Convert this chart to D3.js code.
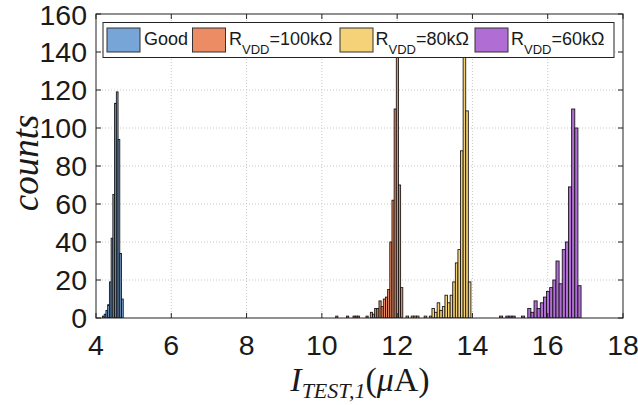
<!DOCTYPE html>
<html><head><meta charset="utf-8">
<script src="https://cdn.jsdelivr.net/npm/d3@7"></script>
<style>body{margin:0;background:#fff}svg{display:block}</style>
</head><body>
<svg id="chart" width="638" height="405"></svg>
<script>
// ---- data ----
const xTicks = [4, 6, 8, 10, 12, 14, 16, 18];
const yTicks = [0, 20, 40, 60, 80, 100, 120, 140, 160];
const seriesNames = ["Good", "100k", "80k", "60k"];
const seriesColors = ["#78a5d7", "#eb8c64", "#f5d278", "#b06dd3"];
// histogram bin starts/widths (µA) and counts
const goodStart = 4.172, goodWidth = 0.046;
const goodCounts = [1, 2, 4, 7, 19, 42, 65, 113, 119, 94, 34, 10];
const r100Start = 10.3675, r100Width = 0.0575;
const r100Counts = [1, 0, 0, 0, 0, 1, 0, 0, 1, 1, 1, 0, 0, 0,
  1, 0, 3, 2, 5, 5, 9, 6, 10, 11, 15, 40, 62, 110, 155, 70, 16];
const r80Start = 12.166, r80Width = 0.069;
const r80Counts = [0, 1, 0, 1, 1, 1, 0, 0, 1, 0,
  1, 5, 3, 8, 4, 6, 12, 8, 12, 19, 29, 36, 88, 155, 109, 19];
const r60Start = 14.72, r60Width = 0.0833;
const r60Counts = [1, 0, 1, 1, 1, 0, 0, 1, 0,
  5, 3, 9, 5, 8, 11, 14, 16, 20, 30, 18, 36, 40, 69, 110, 100, 17];

const hists = [
  {start: goodStart, width: goodWidth, counts: goodCounts},
  {start: r100Start, width: r100Width, counts: r100Counts},
  {start: r80Start, width: r80Width, counts: r80Counts},
  {start: r60Start, width: r60Width, counts: r60Counts}
];

// ---- layout ----
const svg = d3.select("#chart");
const L = 96, R = 623, T = 14, B = 318;
const x = d3.scaleLinear().domain([4, 18]).range([L, R]);
const y = d3.scaleLinear().domain([0, 160]).range([B, T]);
const tickFont = "'Liberation Sans', Arial, sans-serif";

// grid
const grid = svg.append("g");
grid.selectAll(".gx").data(xTicks.slice(1, -1)).enter().append("line")
  .attr("x1", d => x(d)).attr("x2", d => x(d)).attr("y1", T).attr("y2", B)
  .attr("stroke", "#c8c8c8").attr("stroke-width", 1).attr("stroke-dasharray", "1,2");
grid.selectAll(".gy").data(yTicks.slice(1, -1)).enter().append("line")
  .attr("x1", L).attr("x2", R).attr("y1", d => y(d)).attr("y2", d => y(d))
  .attr("stroke", "#c8c8c8").attr("stroke-width", 1).attr("stroke-dasharray", "1,2");

// bars
svg.append("clipPath").attr("id", "clip").append("rect")
  .attr("x", L).attr("y", T).attr("width", R - L).attr("height", B - T);
const barsG = svg.append("g").attr("clip-path", "url(#clip)");
hists.forEach((h, si) => {
  const bins = h.counts.map((c, i) => ({x0: h.start + i * h.width, x1: h.start + (i + 1) * h.width, c}))
    .filter(b => b.c > 0);
  barsG.append("g").selectAll("rect").data(bins).enter().append("rect")
    .attr("x", b => x(b.x0)).attr("width", b => x(b.x1) - x(b.x0))
    .attr("y", b => y(b.c)).attr("height", b => y(0) - y(b.c))
    .attr("fill", seriesColors[si]).attr("stroke", "#111").attr("stroke-width", 0.85);
});

// axes box
svg.append("rect").attr("x", L).attr("y", T).attr("width", R - L).attr("height", B - T)
  .attr("fill", "none").attr("stroke", "#222").attr("stroke-width", 1);

// ticks (inward, mirrored)
const tl = 5;
const tg = svg.append("g").attr("stroke", "#222").attr("stroke-width", 1);
xTicks.forEach(d => {
  tg.append("line").attr("x1", x(d)).attr("x2", x(d)).attr("y1", B).attr("y2", B - tl);
  tg.append("line").attr("x1", x(d)).attr("x2", x(d)).attr("y1", T).attr("y2", T + tl);
});
yTicks.forEach(d => {
  tg.append("line").attr("x1", L).attr("x2", L + tl).attr("y1", y(d)).attr("y2", y(d));
  tg.append("line").attr("x1", R).attr("x2", R - tl).attr("y1", y(d)).attr("y2", y(d));
});

// tick labels
svg.append("g").selectAll("text").data(xTicks).enter().append("text")
  .attr("x", d => x(d)).attr("y", 355).attr("text-anchor", "middle")
  .attr("font-family", tickFont).attr("font-size", 28.5).attr("fill", "#1a1a1a").text(d => d);
svg.append("g").selectAll("text").data(yTicks).enter().append("text")
  .attr("x", 87).attr("y", d => y(d) + (d === 160 ? 1 : 0)).attr("dy", "0.36em").attr("text-anchor", "end")
  .attr("font-family", tickFont).attr("font-size", 28.5).attr("fill", "#1a1a1a").text(d => d);

// axis titles
const serif = "'Liberation Serif', 'DejaVu Serif', serif";
svg.append("text").attr("transform", "translate(38,163) rotate(-90)")
  .attr("text-anchor", "middle").attr("font-family", serif).attr("font-style", "italic")
  .attr("font-size", 37).attr("fill", "#1a1a1a").text("counts");
const xt = svg.append("text").attr("x", 360).attr("y", 391).attr("text-anchor", "middle")
  .attr("font-family", serif).attr("font-size", 34).attr("fill", "#1a1a1a");
xt.append("tspan").attr("font-style", "italic").text("I");
xt.append("tspan").attr("font-style", "italic").attr("font-size", 22).attr("dy", 7).text("TEST,1");
xt.append("tspan").attr("dy", -7).text("(");
xt.append("tspan").attr("font-style", "italic").text("μ");
xt.append("tspan").text("A)");

// legend
const lg = svg.append("g");
lg.append("rect").attr("x", 103).attr("y", 22.5).attr("width", 511).attr("height", 35)
  .attr("fill", "#fff").attr("stroke", "#222").attr("stroke-width", 1);
const legendItems = [
  {sw: 107, tx: 144, main: "Good", sub: null, rest: null},
  {sw: 192.5, tx: 229, main: "R", sub: "VDD", rest: "=100kΩ"},
  {sw: 340, tx: 375.5, main: "R", sub: "VDD", rest: "=80kΩ"},
  {sw: 475, tx: 511, main: "R", sub: "VDD", rest: "=60kΩ"}
];
legendItems.forEach((it, i) => {
  lg.append("rect").attr("x", it.sw).attr("y", 28).attr("width", 33).attr("height", 24)
    .attr("fill", seriesColors[i]).attr("stroke", "#333").attr("stroke-width", 1);
  const t = lg.append("text").attr("x", it.tx).attr("y", 45)
    .attr("font-family", tickFont).attr("font-size", 18).attr("fill", "#1a1a1a");
  t.append("tspan").text(it.main);
  if (it.sub) {
    t.append("tspan").attr("font-size", 13).attr("dy", 9).text(it.sub);
    t.append("tspan").attr("dy", -9).text(it.rest);
  }
});
</script>
</body></html>
